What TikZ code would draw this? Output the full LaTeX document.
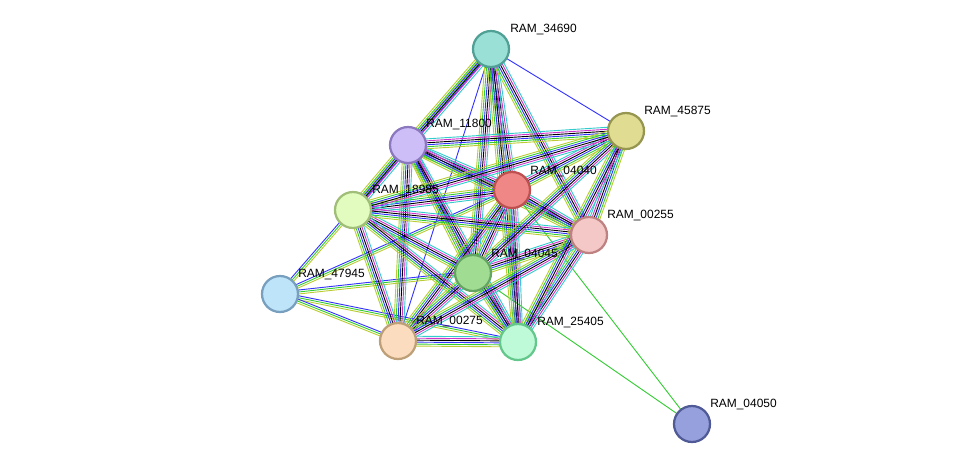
\documentclass[tikz,border=0pt]{standalone}
\usepackage{fontspec}
\setmainfont{Liberation Sans}
\usetikzlibrary{calc}
\tikzset{
  prot/.style={circle, draw, line width=1.6pt, minimum size=36\pxu, inner sep=0pt},
  lbl/.style={anchor=west, font=\fontsize{8.5}{10}\selectfont, inner sep=0pt},
  ln/.style={line width=0.65pt},
}
\newlength{\pxu}
\setlength{\pxu}{0.025cm}
\definecolor{sgreen}{HTML}{33CC33}
\definecolor{sblue}{HTML}{3333FF}
\definecolor{smag}{HTML}{CC33CC}
\definecolor{scyan}{HTML}{33CCCC}
\definecolor{syel}{HTML}{BBCC33}
% full evidence edge
\newcommand{\fulledge}[2]{%
  \foreach \o/\c in {-3.5/syel,-2.1/sgreen,-0.7/sblue,0.7/black,2.1/smag,3.5/scyan}
    \draw[ln,\c] ($(#1)!\o pt!90:(#2)$) -- ($(#2)!\o pt!-90:(#1)$);}
\newcommand{\thinedge}[2]{%
  \foreach \o/\c in {-1.4/syel,0/sgreen,1.4/sblue}
    \draw[ln,\c] ($(#1)!\o pt!90:(#2)$) -- ($(#2)!\o pt!-90:(#1)$);}
\begin{document}
\begin{tikzpicture}[x=0.025cm,y=-0.025cm]
    \useasboundingbox (0,0) rectangle (976,470);

    \coordinate (n34690) at (491,49);
    \coordinate (n45875) at (626,131);
    \coordinate (n11800) at (408,145);
    \coordinate (n04040) at (512,190);
    \coordinate (n18985) at (353,210);
    \coordinate (n00255) at (589,235);
    \coordinate (n04045) at (473,273);
    \coordinate (n47945) at (280,294);
    \coordinate (n00275) at (398,341);
    \coordinate (n25405) at (518,342);
    \coordinate (n04050) at (692,424);

    % single lines
    \draw[ln,sblue] (n34690) -- (n45875);
    \draw[ln,sblue] (n34690) -- (n00275);
    \draw[ln,sgreen] (n04050) -- (n04045);
    \draw[ln,sgreen] (n04050) -- (n04040);

    \thinedge{n47945}{n18985}
    \thinedge{n47945}{n04045}
    \thinedge{n47945}{n25405}
    \thinedge{n47945}{n00275}
    \thinedge{n47945}{n04040}
    \thinedge{n34690}{n18985}

    \foreach \a/\b in {n34690/n11800, n34690/n04040, n34690/n04045, n34690/n25405,
        n34690/n00255, n11800/n04040, n11800/n18985, n11800/n04045, n11800/n00275,
        n11800/n25405, n11800/n00255, n11800/n45875, n04040/n18985, n04040/n04045,
        n04040/n25405, n04040/n00255, n04040/n45875, n04040/n00275, n18985/n04045,
        n18985/n00275, n18985/n25405, n18985/n00255, n04045/n00255, n04045/n00275,
        n04045/n25405, n00255/n25405, n00255/n45875, n00255/n00275, n45875/n04045,
        n45875/n25405, n45875/n18985, n00275/n25405}
      {\fulledge{\a}{\b}}

    \node[prot, draw={rgb,255:red,80;green,160;blue,150}, fill={rgb,255:red,155;green,224;blue,214}] (p34690) at (n34690) {};
    \node[prot, draw={rgb,255:red,150;green,150;blue,80}, fill={rgb,255:red,224;green,220;blue,145}] (p45875) at (n45875) {};
    \node[prot, draw={rgb,255:red,140;green,120;blue,190}, fill={rgb,255:red,205;green,190;blue,248}] (p11800) at (n11800) {};
    \node[prot, draw={rgb,255:red,190;green,80;blue,80}, fill={rgb,255:red,240;green,135;blue,135}] (p04040) at (n04040) {};
    \node[prot, draw={rgb,255:red,160;green,190;blue,120}, fill={rgb,255:red,225;green,252;blue,190}] (p18985) at (n18985) {};
    \node[prot, draw={rgb,255:red,190;green,130;blue,130}, fill={rgb,255:red,245;green,200;blue,200}] (p00255) at (n00255) {};
    \node[prot, draw={rgb,255:red,100;green,165;blue,100}, fill={rgb,255:red,160;green,220;blue,145}] (p04045) at (n04045) {};
    \node[prot, draw={rgb,255:red,120;green,160;blue,190}, fill={rgb,255:red,190;green,228;blue,250}] (p47945) at (n47945) {};
    \node[prot, draw={rgb,255:red,190;green,160;blue,120}, fill={rgb,255:red,252;green,220;blue,190}] (p00275) at (n00275) {};
    \node[prot, draw={rgb,255:red,100;green,200;blue,140}, fill={rgb,255:red,190;green,250;blue,215}] (p25405) at (n25405) {};
    \node[prot, draw={rgb,255:red,80;green,90;blue,150}, fill={rgb,255:red,150;green,160;blue,220}] (p04050) at (n04050) {};

    \node[lbl] (t34690) at (510,30) {RAM\_34690};
    \node[lbl] (t45875) at (644,112) {RAM\_45875};
    \node[lbl] (t11800) at (426,125) {RAM\_11800};
    \node[lbl] (t04040) at (530,172) {RAM\_04040};
    \node[lbl] (t18985) at (372,191) {RAM\_18985};
    \node[lbl] (t00255) at (607,216) {RAM\_00255};
    \node[lbl] (t04045) at (491,255) {RAM\_04045};
    \node[lbl] (t47945) at (298,275) {RAM\_47945};
    \node[lbl] (t00275) at (416,322) {RAM\_00275};
    \node[lbl] (t25405) at (537,323) {RAM\_25405};
    \node[lbl] (t04050) at (710,405) {RAM\_04050};
\end{tikzpicture}
\end{document}
